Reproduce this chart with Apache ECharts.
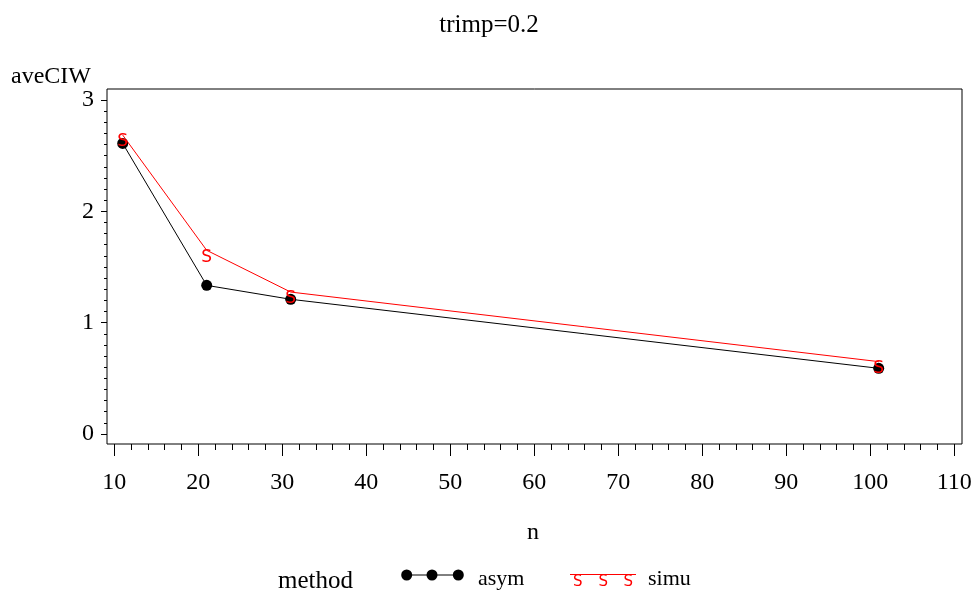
<!DOCTYPE html>
<html>
<head>
<meta charset="utf-8">
<script src="https://cdn.jsdelivr.net/npm/echarts@6/dist/echarts.min.js"></script>
<style>
  html, body { margin: 0; padding: 0; background: #fff; }
  #chart { width: 979px; height: 595px; }
</style>
</head>
<body>
<div id="chart"></div>
<script>
// Sample sizes and average CI widths for each method
const nValues = [11, 21, 31, 101];
const asymWidths = [2.61, 1.335, 1.21, 0.59];
const simuWidths = [2.685, 1.65, 1.275, 0.65];
const xTicks = { min: 10, max: 110, step: 10 };
const yTicks = { min: 0, max: 3, step: 1 };
const titleText = 'trimp=0.2';
const yName = 'aveCIW';
const xName = 'n';
const legendTitle = 'method';
const methodNames = ['asym', 'simu'];

const serif = "'Liberation Serif', 'Times New Roman', serif";
const markFont = "'DejaVu Sans', sans-serif";

const chart = echarts.init(document.getElementById('chart'), null, { renderer: 'canvas' });

// frame box and the inner data area (axis range sits inset from the frame)
const frame = { left: 107, top: 89, width: 855, height: 355 };
const inner = { left: 114.3, top: 100, width: 840, height: 334 };

function pairs(xs, ys) { return xs.map((x, i) => [x, ys[i]]); }

const option = {
  backgroundColor: '#ffffff',
  animation: false,
  grid: [
    { left: frame.left, top: frame.top, width: frame.width, height: frame.height,
      show: true, borderColor: '#000', borderWidth: 1, backgroundColor: 'transparent' },
    { left: inner.left, top: inner.top, width: inner.width, height: inner.height }
  ],
  xAxis: [
    { gridIndex: 0, type: 'value', show: false, min: 0, max: 1 },
    {
      gridIndex: 1, type: 'value', min: xTicks.min, max: xTicks.max, interval: xTicks.step,
      offset: (frame.top + frame.height) - (inner.top + inner.height),
      axisLine: { show: false, onZero: false },
      axisTick: { show: true, inside: false, length: 12, lineStyle: { color: '#000', width: 1 } },
      minorTick: { show: true, splitNumber: 5, length: 6, lineStyle: { color: '#000', width: 1 } },
      splitLine: { show: false },
      axisLabel: { color: '#000', fontFamily: serif, fontSize: 24, margin: 27 }
    }
  ],
  yAxis: [
    { gridIndex: 0, type: 'value', show: false, min: 0, max: 1 },
    {
      gridIndex: 1, type: 'value', min: yTicks.min, max: yTicks.max, interval: yTicks.step,
      offset: inner.left - frame.left,
      axisLine: { show: false, onZero: false },
      axisTick: { show: true, inside: false, length: 6, lineStyle: { color: '#000', width: 1 } },
      minorTick: { show: true, splitNumber: 10, length: 3, lineStyle: { color: '#000', width: 1 } },
      splitLine: { show: false },
      axisLabel: { color: '#000', fontFamily: serif, fontSize: 24, margin: 13 }
    }
  ],
  series: [
    {
      name: methodNames[0], type: 'line', xAxisIndex: 1, yAxisIndex: 1,
      data: pairs(nValues, asymWidths),
      symbol: 'circle', symbolSize: 11, clip: false,
      itemStyle: { color: '#000' },
      lineStyle: { color: '#000', width: 1 },
      z: 2
    },
    {
      name: methodNames[1], type: 'line', xAxisIndex: 1, yAxisIndex: 1,
      data: pairs(nValues, simuWidths),
      symbol: 'circle', symbolSize: 2, clip: false,
      itemStyle: { color: 'rgba(255,0,0,0)' },
      lineStyle: { color: '#ff0000', width: 1 },
      label: {
        show: true, position: 'inside', offset: [0, 7], formatter: 'S',
        color: '#ff0000', fontFamily: markFont, fontSize: 17
      },
      z: 3
    }
  ],
  graphic: [
    { type: 'text', x: 489, y: 25, style: { text: titleText, font: '25px ' + serif, fill: '#000', align: 'center', verticalAlign: 'middle' } },
    { type: 'text', x: 11, y: 76.5, style: { text: yName, font: '24px ' + serif, fill: '#000', align: 'left', verticalAlign: 'middle' } },
    { type: 'text', x: 533, y: 532.5, style: { text: xName, font: '24px ' + serif, fill: '#000', align: 'center', verticalAlign: 'middle' } },
    { type: 'text', x: 278, y: 581.5, style: { text: legendTitle, font: '25px ' + serif, fill: '#000', align: 'left', verticalAlign: 'middle' } },
    // legend: asym
    { type: 'line', shape: { x1: 406, y1: 575, x2: 459, y2: 575 }, style: { stroke: '#000', lineWidth: 1 } },
    { type: 'circle', shape: { cx: 406.7, cy: 575, r: 5.5 }, style: { fill: '#000' } },
    { type: 'circle', shape: { cx: 432, cy: 575, r: 5.5 }, style: { fill: '#000' } },
    { type: 'circle', shape: { cx: 458.3, cy: 575, r: 5.5 }, style: { fill: '#000' } },
    { type: 'text', x: 478, y: 579, style: { text: methodNames[0], font: '22px ' + serif, fill: '#000', align: 'left', verticalAlign: 'middle' } },
    // legend: simu
    { type: 'line', shape: { x1: 570, y1: 574.5, x2: 636, y2: 574.5 }, style: { stroke: '#ff0000', lineWidth: 1 } },
    { type: 'text', x: 577.7, y: 582.5, style: { text: 'S', font: '15px ' + markFont, fill: '#ff0000', align: 'center', verticalAlign: 'middle' } },
    { type: 'text', x: 603.3, y: 582.5, style: { text: 'S', font: '15px ' + markFont, fill: '#ff0000', align: 'center', verticalAlign: 'middle' } },
    { type: 'text', x: 628.3, y: 582.5, style: { text: 'S', font: '15px ' + markFont, fill: '#ff0000', align: 'center', verticalAlign: 'middle' } },
    { type: 'text', x: 648, y: 579, style: { text: methodNames[1], font: '22px ' + serif, fill: '#000', align: 'left', verticalAlign: 'middle' } }
  ]
};

chart.setOption(option);
</script>
</body>
</html>
